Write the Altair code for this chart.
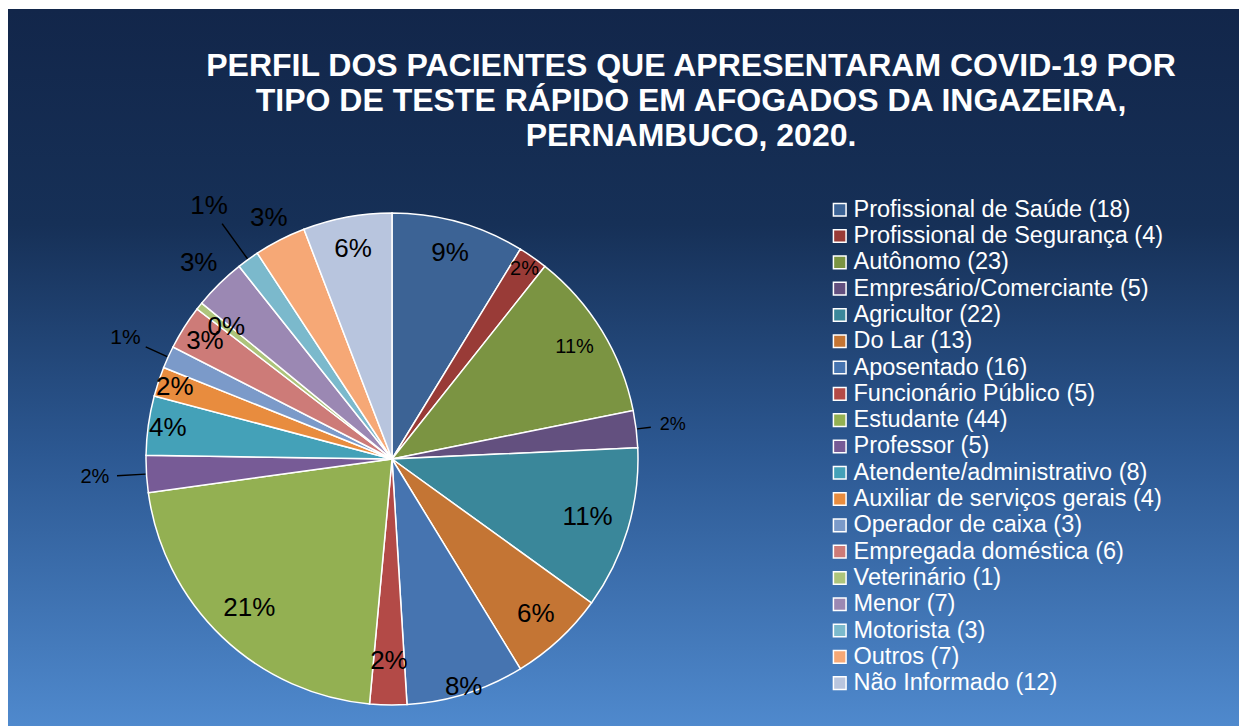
import altair as alt
import pandas as pd
import math

categories = [
    "Profissional de Saúde", "Profissional de Segurança", "Autônomo",
    "Empresário/Comerciante", "Agricultor", "Do Lar", "Aposentado",
    "Funcionário Público", "Estudante", "Professor",
    "Atendente/administrativo", "Auxiliar de serviços gerais",
    "Operador de caixa", "Empregada doméstica", "Veterinário", "Menor",
    "Motorista", "Outros", "Não Informado",
]
counts = [18, 4, 23, 5, 22, 13, 16, 5, 44, 5, 8, 4, 3, 6, 1, 7, 3, 7, 12]

colors = [
    "#3c6395", "#993b37", "#7b9442", "#63507f", "#3a879a", "#c47534",
    "#4674b0", "#b34a47", "#93b052", "#775b96", "#44a1b8", "#e88c3e",
    "#7b9ac9", "#cd7b78", "#adc47b", "#9b88b3", "#7bb9cc", "#f6a876",
    "#b8c5de",
]

# label styling (radius factor relative to pie radius, font size)
label_rfac = [0.87, 0.94, 0.87, 1.15, 0.83, 0.86, 0.97, 0.82, 0.84, 1.21,
              0.92, 0.93, 1.19, 0.90, 0.86, 1.12, 1.27, 1.10, 0.87]
label_size = [26, 20, 20, 18, 26, 26, 26, 26, 26, 20,
              26, 26, 21, 26, 26, 26, 26, 26, 26]
leader_end = [1.06 if i == 3 else 1.12 if i == 9 else 1.1 if i == 12 else 1.18 if i == 16 else None
              for i in range(len(counts))]

W, H = 1239, 726
CX, CY, R = 392, 459, 246
total = sum(counts)

df = pd.DataFrame({"cat": categories, "value": counts})
df["order"] = range(len(df))
df["label"] = [f"{c} ({v})" for c, v in zip(categories, counts)]
df["pct"] = [f"{round(v / total * 100)}%" for v in counts]
df["cum_end"] = df["value"].cumsum()
df["mid"] = df["cum_end"] - df["value"] / 2
df["rad"] = [f * R for f in label_rfac]
df["fs"] = label_size

theta_scale = alt.Scale(domain=[0, total], range=[0, 2 * math.pi])
color_scale = alt.Scale(domain=list(df["label"]), range=colors)

bg = alt.Chart(pd.DataFrame({"a": [0]})).mark_rect(
    color=alt.Gradient(
        gradient="linear",
        stops=[
            alt.GradientStop(color="#12264a", offset=0),
            alt.GradientStop(color="#163057", offset=0.3),
            alt.GradientStop(color="#2c5892", offset=0.62),
            alt.GradientStop(color="#4f89cd", offset=1),
        ],
        x1=0, x2=0, y1=0, y2=1,
    )
).encode(x=alt.value(8), x2=alt.value(W), y=alt.value(9), y2=alt.value(H))

pie = alt.Chart(df).mark_arc(radius=R, stroke="white", strokeWidth=1.5).encode(
    x=alt.value(CX), y=alt.value(CY),
    theta=alt.Theta("value:Q", stack=True, scale=theta_scale),
    order=alt.Order("order:Q"),
    color=alt.Color(
        "label:N", scale=color_scale, sort=None,
        legend=alt.Legend(
            orient="none", legendX=828, legendY=198, title=None,
            symbolType="square", symbolSize=160, symbolStrokeColor="white",
            symbolStrokeWidth=1.5, labelColor="white", labelFontSize=23.5,
            labelFont="Liberation Sans", labelLimit=0, rowPadding=1.3,
            labelOffset=2, padding=0,
        ),
    ),
)

ld = df[[e is not None for e in leader_end]].copy()
ld["t1"] = ld["mid"] - 0.09
ld["t2"] = ld["mid"] + 0.09
ld["r1"] = R + 1
ld["r2"] = [leader_end[i] * R for i in ld["order"]]

leaders = alt.Chart(ld).mark_arc(color="black").encode(
    x=alt.value(CX), y=alt.value(CY),
    theta=alt.Theta("t1:Q", scale=theta_scale),
    theta2="t2:Q",
    radius=alt.Radius("r1:Q", scale=None),
    radius2="r2:Q",
)

labels = alt.Chart(df).mark_text(
    font="Liberation Sans", color="black", align="center", baseline="middle"
).encode(
    x=alt.value(CX), y=alt.value(CY),
    theta=alt.Theta("mid:Q", scale=theta_scale),
    radius=alt.Radius("rad:Q", scale=None),
    text="pct:N",
    size=alt.Size("fs:Q", scale=None, legend=None),
)

title = alt.Chart(pd.DataFrame({"a": [0]})).mark_text(
    text=[
        "PERFIL DOS PACIENTES QUE APRESENTARAM COVID-19 POR",
        "TIPO DE TESTE RÁPIDO EM AFOGADOS DA INGAZEIRA,",
        "PERNAMBUCO, 2020.",
    ],
    font="Liberation Sans", fontWeight="bold", fontSize=32, color="white",
    align="center", baseline="middle", lineHeight=35,
).encode(x=alt.value(691), y=alt.value(66))

chart = alt.layer(bg, pie, leaders, labels, title).properties(
    width=W, height=H, padding=0, background="white",
    autosize=alt.AutoSizeParams(type="none"),
).configure_view(stroke=None).resolve_scale(radius="independent")

chart.save("out.html", embed_options={"renderer": "svg", "actions": False})
